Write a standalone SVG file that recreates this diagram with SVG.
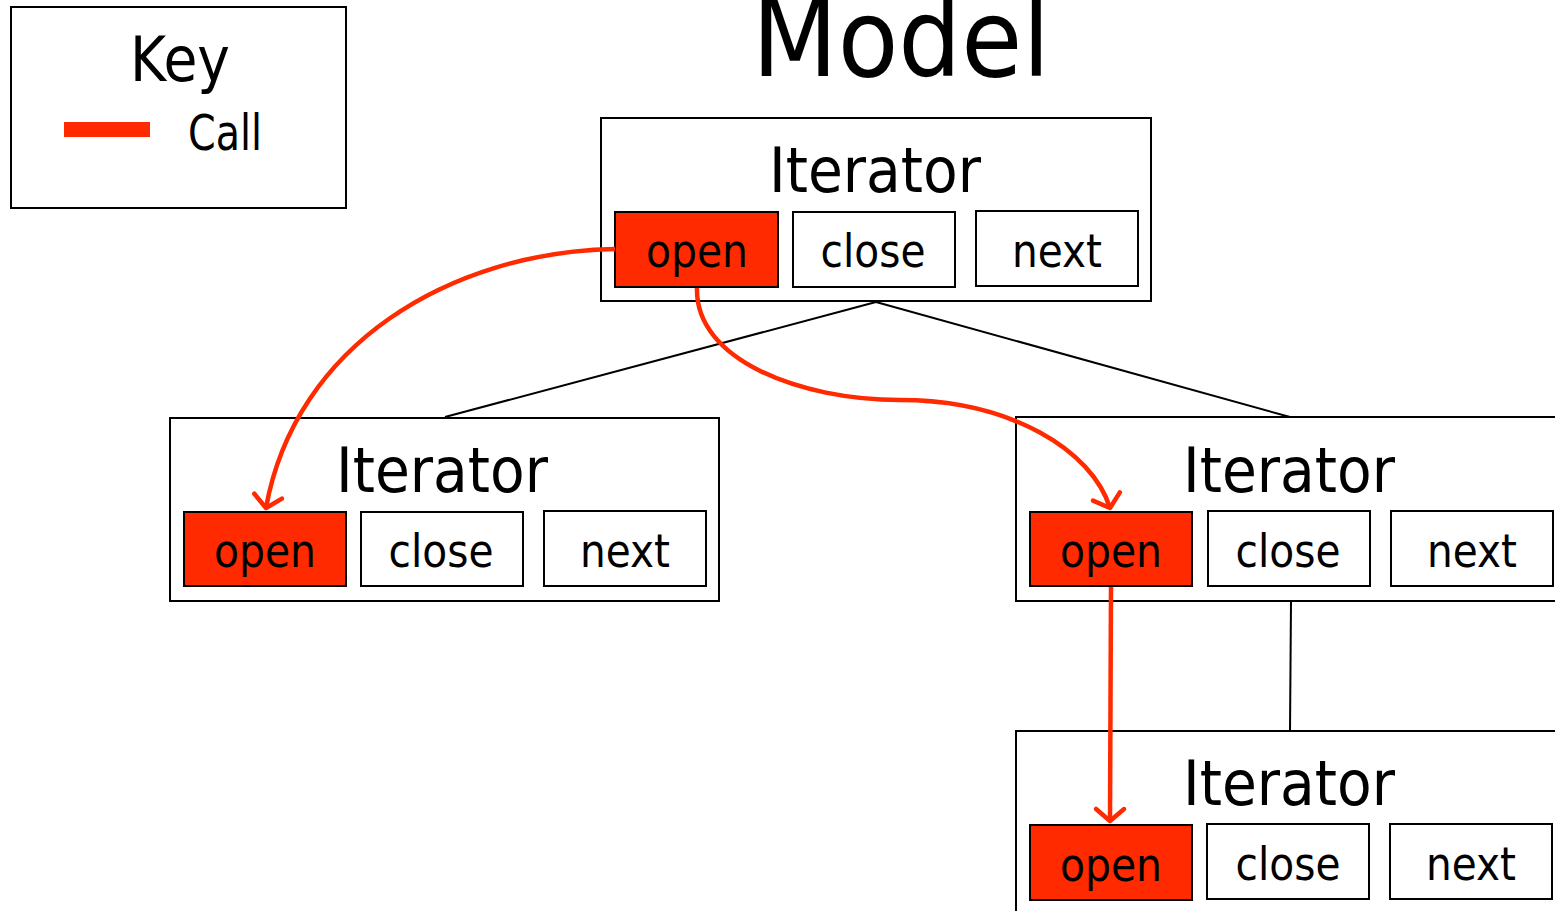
<svg xmlns="http://www.w3.org/2000/svg" width="1555" height="911" viewBox="0 0 1555 911">
<defs>
<style>
.box{fill:#fff;stroke:#000;stroke-width:2}
.op{fill:#ff2a00;stroke:#000;stroke-width:2}
.bt{fill:#fff;stroke:#000;stroke-width:2}
text{font-family:"DejaVu Sans","Liberation Sans",sans-serif;fill:#000}
.ti{font-size:62px}
.lb{font-size:46px}
.tree{stroke:#000;stroke-width:2;fill:none}
.call{stroke:#ff2a00;stroke-width:4.5;fill:none;marker-end:url(#ah)}
</style>
<marker id="ah" markerWidth="12" markerHeight="12" refX="6" refY="6" orient="auto" markerUnits="userSpaceOnUse" viewBox="0 0 12 12" overflow="visible">
<path d="M-6,-8 L6,6 L-6,20" transform="translate(0,0)" fill="none" stroke="#ff2a00" stroke-width="4.5" stroke-linecap="round" stroke-linejoin="round"/>
</marker>
</defs>
<rect width="1555" height="911" fill="#fff"/>
<g id="title"><text x="901" y="76" font-size="108" text-anchor="middle" textLength="298" lengthAdjust="spacingAndGlyphs">Model</text></g>
<g id="key">
<rect x="11" y="7" width="335" height="201" class="box"/>
<text x="180" y="81" font-size="62" text-anchor="middle" textLength="100" lengthAdjust="spacingAndGlyphs">Key</text>
<rect x="64" y="122" width="86" height="15" fill="#ff2a00"/>
<text x="188" y="150" font-size="50" textLength="74" lengthAdjust="spacingAndGlyphs">Call</text>
</g>
<g id="connectors">
<line x1="876" y1="302" x2="445" y2="417" class="tree"/>
<line x1="876" y1="302" x2="1290" y2="417" class="tree"/>
<line x1="1291" y1="601" x2="1290" y2="731" class="tree"/>
</g>
<g id="it-top">
<rect x="601" y="118" width="550" height="183" class="box"/>
<text x="875" y="192" class="ti" text-anchor="middle" textLength="212" lengthAdjust="spacingAndGlyphs">Iterator</text>
<rect x="615" y="212" width="163" height="75" class="op"/>
<text x="697" y="267" class="lb" text-anchor="middle" textLength="102" lengthAdjust="spacingAndGlyphs">open</text>
<rect x="793" y="212" width="162" height="75" class="bt"/>
<text x="873" y="267" class="lb" text-anchor="middle" textLength="105" lengthAdjust="spacingAndGlyphs">close</text>
<rect x="976" y="211" width="162" height="75" class="bt"/>
<text x="1057" y="267" class="lb" text-anchor="middle" textLength="90" lengthAdjust="spacingAndGlyphs">next</text>
</g>
<g id="it-left">
<rect x="170" y="418" width="549" height="183" class="box"/>
<text x="442" y="492" class="ti" text-anchor="middle" textLength="212" lengthAdjust="spacingAndGlyphs">Iterator</text>
<rect x="184" y="512" width="162" height="74" class="op"/>
<text x="265" y="567" class="lb" text-anchor="middle" textLength="102" lengthAdjust="spacingAndGlyphs">open</text>
<rect x="361" y="512" width="162" height="74" class="bt"/>
<text x="441" y="567" class="lb" text-anchor="middle" textLength="105" lengthAdjust="spacingAndGlyphs">close</text>
<rect x="544" y="511" width="162" height="75" class="bt"/>
<text x="625" y="567" class="lb" text-anchor="middle" textLength="90" lengthAdjust="spacingAndGlyphs">next</text>
</g>
<g id="it-right">
<rect x="1016" y="417" width="560" height="184" class="box"/>
<text x="1289" y="492" class="ti" text-anchor="middle" textLength="212" lengthAdjust="spacingAndGlyphs">Iterator</text>
<rect x="1030" y="512" width="162" height="74" class="op"/>
<text x="1111" y="567" class="lb" text-anchor="middle" textLength="102" lengthAdjust="spacingAndGlyphs">open</text>
<rect x="1208" y="511" width="162" height="75" class="bt"/>
<text x="1288" y="567" class="lb" text-anchor="middle" textLength="105" lengthAdjust="spacingAndGlyphs">close</text>
<rect x="1391" y="511" width="162" height="75" class="bt"/>
<text x="1472" y="567" class="lb" text-anchor="middle" textLength="90" lengthAdjust="spacingAndGlyphs">next</text>
</g>
<g id="it-bottom">
<rect x="1016" y="731" width="560" height="200" class="box"/>
<text x="1289" y="805" class="ti" text-anchor="middle" textLength="212" lengthAdjust="spacingAndGlyphs">Iterator</text>
<rect x="1030" y="825" width="162" height="75" class="op"/>
<text x="1111" y="881" class="lb" text-anchor="middle" textLength="102" lengthAdjust="spacingAndGlyphs">open</text>
<rect x="1207" y="824" width="162" height="75" class="bt"/>
<text x="1288" y="880" class="lb" text-anchor="middle" textLength="105" lengthAdjust="spacingAndGlyphs">close</text>
<rect x="1390" y="824" width="162" height="75" class="bt"/>
<text x="1471" y="880" class="lb" text-anchor="middle" textLength="90" lengthAdjust="spacingAndGlyphs">next</text>
</g>
<g id="calls">
<path d="M615,249 C450,252 295,345 266,508" class="call"/>
<path d="M697,288 C695,360 800,400 900,400 C1010,400 1092,450 1110,508" class="call"/>
<path d="M1111,587 L1110,821" class="call"/>
</g>
</svg>
